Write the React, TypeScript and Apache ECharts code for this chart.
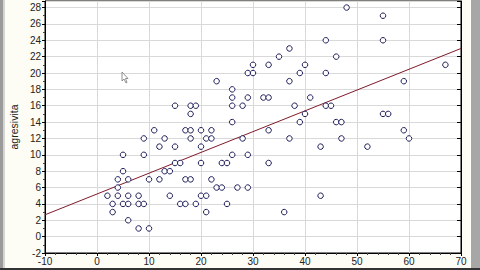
import React, { useEffect, useRef } from "react";
import * as echarts from "echarts";

const pointX = [2, 3, 3, 4, 4, 4, 5, 5, 5, 6, 6, 6, 6, 8, 8, 8, 9, 9, 9, 10, 10, 11, 12, 12, 13, 13, 14, 14, 15, 15, 15, 16, 16, 17, 17, 17, 18, 18, 18, 18, 18, 19, 19, 20, 20, 20, 20, 21, 21, 21, 22, 22, 22, 23, 23, 24, 24, 25, 25, 26, 26, 26, 26, 26, 27, 28, 28, 29, 29, 29, 29, 30, 30, 32, 33, 33, 33, 33, 35, 36, 37, 37, 37, 38, 39, 39, 40, 40, 41, 43, 43, 44, 44, 44, 45, 46, 46, 47, 47, 48, 52, 55, 55, 55, 56, 59, 59, 60, 67];
const pointY = [5, 4, 3, 5, 6, 7, 8, 10, 4, 5, 4, 7, 2, 5, 4, 1, 4, 10, 12, 7, 1, 13, 11, 7, 12, 8, 8, 5, 11, 9, 16, 9, 4, 4, 7, 13, 7, 12, 13, 15, 16, 16, 4, 13, 11, 9, 5, 5, 3, 12, 12, 13, 7, 6, 19, 6, 9, 9, 4, 18, 17, 16, 14, 10, 6, 16, 12, 6, 10, 17, 20, 20, 21, 17, 17, 21, 13, 9, 22, 3, 23, 19, 12, 16, 20, 14, 21, 15, 17, 11, 5, 24, 20, 16, 16, 22, 14, 14, 12, 28, 11, 27, 24, 15, 15, 19, 13, 12, 21];

const fitX = [-10, 70];
const fitY = [2.67, 23.0];

const xTicks = [-10, 0, 10, 20, 30, 40, 50, 60, 70];
const yTicks = [-2, 0, 2, 4, 6, 8, 10, 12, 14, 16, 18, 20, 22, 24, 26, 28];
const yTitle = "agresivita";

export default function App() {
  const ref = useRef<HTMLDivElement>(null);
  useEffect(() => {
    if (!ref.current) return;
    const chart = echarts.init(ref.current, null, { renderer: "svg" });
    const font = "Liberation Sans, Arial, sans-serif";
    chart.setOption({
      animation: false,
      backgroundColor: "#fdfdf6",
      textStyle: { fontFamily: font },
      grid: {
        left: 40,
        right: 19,
        top: 1,
        bottom: 17,
        show: true,
        backgroundColor: "#ffffff",
        borderColor: "#000",
        borderWidth: 1,
      },
      xAxis: {
        type: "value",
        min: xTicks[0],
        max: xTicks[xTicks.length - 1],
        interval: 10,
        axisLine: { show: true, onZero: false, lineStyle: { color: "#000", width: 1 } },
        axisTick: { show: true, length: 3, lineStyle: { color: "#000" } },
        minorTick: { show: true, splitNumber: 5, length: 2, lineStyle: { color: "#444" } },
        splitLine: { show: true, lineStyle: { color: "#d9d9d9", width: 1 } },
        axisLabel: { color: "#222", fontSize: 10, fontFamily: font, margin: 3 },
      },
      yAxis: [
        {
          type: "value",
          min: yTicks[0],
          max: 28.8,
          interval: 2,
          name: yTitle,
          nameLocation: "middle",
          nameGap: 24,
          nameTextStyle: { color: "#222", fontSize: 10.5, fontFamily: font },
          axisLine: { show: true, onZero: false, lineStyle: { color: "#000", width: 1 } },
          axisTick: { show: true, length: 3, lineStyle: { color: "#000" } },
          minorTick: { show: true, splitNumber: 2, length: 2, lineStyle: { color: "#444" } },
          splitLine: { show: true, lineStyle: { color: "#d9d9d9", width: 1 } },
          axisLabel: { color: "#222", fontSize: 10, fontFamily: font, margin: 4, showMaxLabel: false },
        },
        {
          type: "value",
          position: "right",
          min: yTicks[0],
          max: 28.8,
          interval: 2,
          axisLine: { show: true, onZero: false, lineStyle: { color: "#000", width: 1 } },
          axisTick: { show: true, inside: true, length: 4, lineStyle: { color: "#000" } },
          splitLine: { show: false },
          axisLabel: { show: false },
        },
      ],
      graphic: [
        { type: "rect", shape: { x: 0, y: 0, width: 3, height: 270 }, style: { fill: "#9a9a9a" }, z: 100 },
        { type: "rect", shape: { x: 3, y: 0, width: 2, height: 270 }, style: { fill: "#d4d4d0" }, z: 100 },
        { type: "rect", shape: { x: 471, y: 0, width: 9, height: 270 }, style: { fill: "#a7a7a7" }, z: 100 },
        { type: "rect", shape: { x: 0, y: 268, width: 480, height: 2 }, style: { fill: "#333" }, z: 100 },
        {
          type: "polygon",
          shape: { points: [[122, 72], [122, 81], [124, 79], [126, 83], [127, 82.5], [125.5, 78.5], [128, 78.5]] },
          style: { fill: "#fff", stroke: "#777", lineWidth: 0.8 },
          z: 100,
        },
      ],
      series: [
        {
          type: "line",
          data: fitX.map((x, i) => [x, fitY[i]]),
          symbol: "none",
          lineStyle: { color: "#7e1a2a", width: 1 },
          z: 3,
        },
        {
          type: "scatter",
          data: pointX.map((x, i) => [x, pointY[i]]),
          symbol: "circle",
          symbolSize: 5.5,
          itemStyle: { color: "#ffffff", borderColor: "#1c1c5a", borderWidth: 1, opacity: 1 },
          z: 4,
        },
      ],
    });
    return () => chart.dispose();
  }, []);
  return <div ref={ref} style={{ width: 480, height: 270, position: "fixed", left: 0, top: 0 }} />;
}
